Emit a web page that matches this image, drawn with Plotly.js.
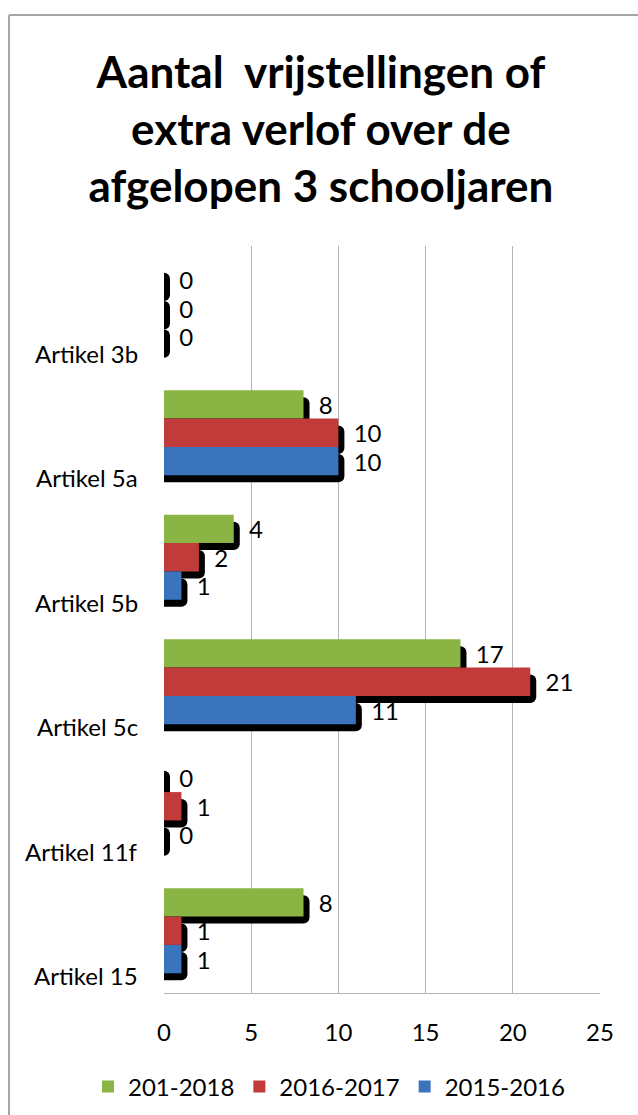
<!DOCTYPE html>
<html>
<head>
<meta charset="utf-8">
<script src="https://cdn.plot.ly/plotly-3.0.1.min.js"></script>
<style>
  html, body { margin: 0; padding: 0; background: #ffffff; }
  #chart { width: 638px; height: 1115px; }
</style>
</head>
<body>
<div id="chart"></div>
<script>
// ---- data ----
const categories = ['Artikel 3b', 'Artikel 5a', 'Artikel 5b', 'Artikel 5c', 'Artikel 11f', 'Artikel 15'];
const series201_2018 = [0, 8, 4, 17, 0, 8];
const series2016_2017 = [0, 10, 2, 21, 1, 1];
const series2015_2016 = [0, 10, 1, 11, 0, 1];
const seriesNames = ['201-2018', '2016-2017', '2015-2016'];
const xTickValues = [0, 5, 10, 15, 20, 25];

// ---- styling ----
const seriesColors = ['#8ab443', '#c23b3b', '#3a74bd'];
const FONT = 'Lato, "Open Sans", sans-serif';
const FS = 24;
const W = 638, H = 1115;
const M = { l: 164, r: 38, t: 246, b: 122, autoexpand: false };
const plotW = W - M.l - M.r, plotH = H - M.t - M.b;
const xMax = 25;
const shadowDxPx = 6, shadowDyPx = 7;
const dxU = shadowDxPx / plotW * xMax;
const dyU = shadowDyPx / plotH * categories.length;

const allSeries = [series201_2018, series2016_2017, series2015_2016];

const traces = [];
// shadows (main subplot, drawn first, y shifted down)
allSeries.forEach((vals, i) => {
  traces.push({
    type: 'bar', orientation: 'h',
    y: categories, x: vals.map(v => v + dxU),
    xaxis: 'x', yaxis: 'y',
    marker: { color: '#000000', cornerradius: 6, line: { width: 0 } },
    showlegend: false, hoverinfo: 'skip'
  });
});
// real bars (overlay subplot)
allSeries.forEach((vals, i) => {
  traces.push({
    type: 'bar', orientation: 'h', name: seriesNames[i],
    y: categories, x: vals,
    xaxis: 'x', yaxis: 'y2',
    marker: { color: seriesColors[i], line: { width: 0 } },
    texttemplate: '\u00a0\u00a0%{x}', textposition: 'outside',
    constraintext: 'none', cliponaxis: false,
    textfont: { family: FONT, size: FS, color: '#000000' }
  });
});

const catRange = [categories.length - 0.5, -0.5];

const annotations = categories.map((c, i) => ({
  xref: 'paper', x: 0, xanchor: 'right', xshift: -24,
  yref: 'y2', y: i, yanchor: 'middle', yshift: -45,
  text: c, showarrow: false,
  font: { family: FONT, size: FS, color: '#000000' }
}));

const px2fx = px => (px - M.l) / plotW;
const py2fy = py => (H - M.b - py) / plotH;

const layout = {
  width: W, height: H,
  margin: M,
  paper_bgcolor: '#ffffff', plot_bgcolor: 'rgba(0,0,0,0)',
  barmode: 'group', bargap: 0.317, bargroupgap: 0,
  title: {
    text: 'Aantal\u00a0 vrijstellingen of<br>extra verlof over de<br>afgelopen 3 schooljaren',
    font: { family: FONT, size: 44, color: '#000000', weight: 'bold' },
    xref: 'container', x: 0.503, xanchor: 'center',
    yref: 'container', y: 1 - 88 / H, yanchor: 'top'
  },
  xaxis: {
    range: [0, xMax], tickvals: xTickValues, ticktext: xTickValues.map(String),
    showgrid: true, gridcolor: '#b4b4b4', gridwidth: 1.3,
    zeroline: false, showline: true, linecolor: '#b4b4b4', linewidth: 1.3,
    ticks: '', ticklabelstandoff: 18,
    tickfont: { family: FONT, size: FS, color: '#000000' },
    fixedrange: true
  },
  yaxis: {
    type: 'category', categoryorder: 'array', categoryarray: categories,
    range: [catRange[0] - dyU, catRange[1] - dyU],
    visible: false, showgrid: false, zeroline: false, fixedrange: true
  },
  yaxis2: {
    type: 'category', categoryorder: 'array', categoryarray: categories,
    overlaying: 'y', range: catRange,
    visible: false, showgrid: false, zeroline: false, fixedrange: true
  },
  legend: {
    orientation: 'h', xref: 'paper', x: px2fx(88), xanchor: 'left',
    yref: 'paper', y: py2fy(1087), yanchor: 'middle',
    font: { family: FONT, size: FS, color: '#000000' },
    traceorder: 'normal', itemwidth: 30
  },
  annotations: annotations,
  shapes: [
    { type: 'line', xref: 'paper', yref: 'paper', x0: px2fx(9), x1: px2fx(640), y0: py2fy(15), y1: py2fy(15),
      line: { color: '#a6a6a6', width: 2 } },
    { type: 'line', xref: 'paper', yref: 'paper', x0: px2fx(9), x1: px2fx(9), y0: py2fy(15), y1: py2fy(1117),
      line: { color: '#a6a6a6', width: 2 } }
  ],
  showlegend: true
};

Plotly.newPlot('chart', traces, layout, { displayModeBar: false, staticPlot: true });
</script>
</body>
</html>
